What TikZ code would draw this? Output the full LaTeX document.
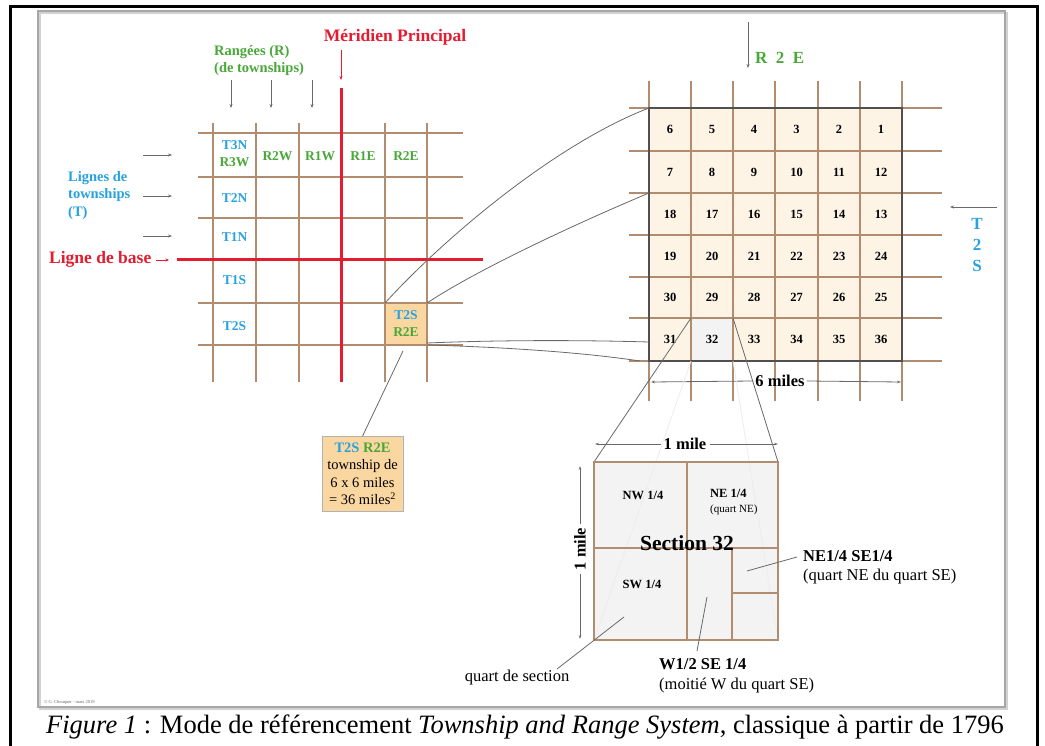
\documentclass[tikz,border=0pt]{standalone}
\usepackage{fontspec}
\setmainfont{Liberation Serif}
\usetikzlibrary{arrows.meta}

\definecolor{gridbrown}{RGB}{178,140,110}
\definecolor{basered}{RGB}{228,28,48}
\definecolor{tblue}{RGB}{40,162,222}
\definecolor{rgreen}{RGB}{74,168,58}
\definecolor{cellorange}{RGB}{250,214,160}
\definecolor{towncream}{RGB}{253,244,230}
\definecolor{secgray}{RGB}{242,243,242}
\definecolor{leadgray}{RGB}{105,105,105}
\definecolor{squareborder}{RGB}{80,80,80}
\definecolor{pageframe}{RGB}{0,0,0}

\newcommand\fs[1]{\fontsize{#1}{#1}\selectfont}

\tikzset{
  brownline/.style={draw=gridbrown, line width=1.6pt},
  redline/.style={draw=basered, line width=3pt},
  leader/.style={draw=leadgray, line width=0.8pt},
  faint/.style={draw=gray!14, line width=0.8pt},
  ptr/.style={draw=leadgray, line width=0.8pt, -{Stealth[length=4pt,width=3pt]}},
  dimline/.style={draw=leadgray, line width=0.8pt, -{Stealth[length=4pt,width=2.6pt]}},
  lbl/.style={inner sep=0pt, font=\fs{13.5}\bfseries},
  num/.style={inner sep=0pt, font=\fs{12.5}\bfseries},
  qlbl/.style={inner sep=0pt, font=\fs{12.5}\bfseries, align=center},
  bigl/.style={inner sep=0pt, font=\fs{16.5}\bfseries, anchor=west},
  smalll/.style={inner sep=0pt, font=\fs{16.5}, anchor=west},
}

\begin{document}
\begin{tikzpicture}[x=1pt,y=-1pt]
\useasboundingbox (0,0) rectangle (1045,746);
\fill[white] (0,0) rectangle (1045,746);

% inner framed panel
\draw[gray!35, line width=1.6pt] (40,13) rectangle (1007,709);
\draw[gray!70, line width=1.4pt] (38,11) rectangle (1005,707);

% ---------- left grid: townships around the meridian and base line ----------
\fill[cellorange] (385,303) rectangle (427,345);
\draw[orange!60!gridbrown, line width=0.8pt] (385,303) rectangle (427,345);
\foreach \x in {213,256,299,385,427} \draw[brownline] (\x,123) -- (\x,382);
\foreach \y in {133,177,218,303,345} \draw[brownline] (198,\y) -- (463,\y);
\draw[redline] (341,88) -- (341,382);
\draw[redline] (177,260) -- (483,260);

% cell labels
\node[lbl, text=tblue]  (t3n) at (234.5,145) {T3N};
\node[lbl, text=rgreen] (r3w) at (234.5,162) {R3W};
\node[lbl, text=rgreen] (r2w) at (277.5,156) {R2W};
\node[lbl, text=rgreen] (r1w) at (320,156) {R1W};
\node[lbl, text=rgreen] (r1e) at (363,156) {R1E};
\node[lbl, text=rgreen] (r2e) at (406,156) {R2E};
\node[lbl, text=tblue]  (t2n) at (234.5,198) {T2N};
\node[lbl, text=tblue]  (t1n) at (234.5,237) {T1N};
\node[lbl, text=tblue]  (t1s) at (234.5,280) {T1S};
\node[lbl, text=tblue]  (t2s) at (234.5,326) {T2S};
\node[lbl, text=tblue]  (ct2s) at (406,315) {T2S};
\node[lbl, text=rgreen] (cr2e) at (406,332) {R2E};

% titles and pointers
\node[inner sep=0pt, text=basered, font=\fs{17.5}\bfseries] (merid) at (395,37) {Méridien Principal};
\coordinate (meridtop) at (341,50);
\coordinate (meridtip) at (341,80);
\draw[draw=basered, line width=0.7pt, -{Stealth[length=4pt,width=3pt]}] (meridtop) -- (meridtip);

\node[inner sep=0pt, text=rgreen, font=\fs{14.5}\bfseries, align=left, anchor=north west] (rangees) at (214,45) {Rangées (R)\\[3pt](de townships)};
\foreach \x/\n in {231/a,271/b,312/c} {
  \coordinate (rt\n) at (\x,80);
  \coordinate (rb\n) at (\x,108);
  \draw[ptr] (rt\n) -- (rb\n);
}

\node[inner sep=0pt, text=tblue, font=\fs{14.5}\bfseries, align=left, anchor=north west] (lignes) at (68,171) {Lignes de\\[3pt]townships\\[3pt](T)};
\foreach \y/\n in {155/a,196/b,236/c} {
  \coordinate (ll\n) at (143,\y);
  \coordinate (lr\n) at (172,\y);
  \draw[ptr] (ll\n) -- (lr\n);
}

\node[inner sep=0pt, text=basered, font=\fs{17.5}\bfseries, anchor=west] (base) at (49,259) {Ligne de base};
\coordinate (basetip) at (169,260);
\draw[draw=basered, line width=0.7pt, -{Stealth[length=3.5pt,width=3pt]}] (base.east) ++(5,1) -- (basetip);

% ---------- township T2S R2E, 36 sections ----------
\fill[towncream] (649,108) rectangle (902,361);
\fill[secgray] (691,318) rectangle (733,361);
\foreach \x in {649,691,733,775,818,860,902} \draw[brownline] (\x,81) -- (\x,401);
\foreach \y in {108,151,193,235,277,318,361} \draw[brownline] (629,\y) -- (942,\y);
\draw[draw=squareborder, line width=1.8pt] (649,108) rectangle (902,361);

\foreach \r/\yy in {0/129.5,1/172,2/214,3/256,4/297.5,5/339.5} {
  \foreach \c/\xx in {0/670,1/712,2/754,3/796.5,4/839,5/881} {
    \pgfmathtruncatemacro{\sec}{ifthenelse(mod(\r,2)==0, 6*\r+6-\c, 6*\r+1+\c)}
    \node[num] (s\sec) at (\xx,\yy) {\sec};
  }
}

\node[inner sep=0pt, text=rgreen, font=\fs{17}\bfseries, anchor=west] (r2etitle) at (755,58) {R\,\,\,2\,\,\,E};
\coordinate (r2etop) at (748,22);
\coordinate (r2etip) at (748,68);
\draw[ptr] (r2etop) -- (r2etip);

\node[inner sep=0pt, text=tblue, font=\fs{17}\bfseries, align=center] (t2stitle) at (977,245) {T\\[4pt]2\\[4pt]S};
\coordinate (t2sfrom) at (997,207);
\coordinate (t2sto) at (950,207);
\draw[ptr] (t2sfrom) -- (t2sto);

% 6 miles dimension
\node[inner sep=2pt, font=\fs{16.5}\bfseries] (sixm) at (780,381) {6 miles};
\coordinate (sixl) at (651,382);
\coordinate (sixr) at (901,382);
\draw[dimline] (sixm.west) -- (sixl);
\draw[dimline] (sixm.east) -- (sixr);

% zoom lines from the orange township to the enlarged township
\coordinate (cellnw) at (385,303);
\coordinate (cellne) at (427,303);
\coordinate (cellse) at (427,343);
\coordinate (cellse2) at (427,345);
\coordinate (townnw) at (649,108);
\coordinate (townrow3) at (649,193);
\coordinate (townrow6) at (649,342);
\coordinate (townsw) at (640,361);
\draw[leader] (cellnw) .. controls (450,232) and (560,142) .. (townnw);
\draw[leader] (cellne) .. controls (480,268) and (580,222) .. (townrow3);
\draw[leader] (cellse) .. controls (500,340) and (580,340) .. (townrow6);
\draw[leader] (cellse2) .. controls (500,347) and (580,352) .. (townsw);

% township summary box
\coordinate (cellfoot) at (403,351);
\node[draw=gray!60, fill=cellorange, line width=0.6pt, minimum width=81pt, minimum height=75pt,
      inner sep=1pt, align=center, font={\fontsize{14.5}{17.5}\selectfont}] (infobox) at (362.5,474)
  {{\bfseries\color{tblue}T2S} {\bfseries\color{rgreen}R2E}\\ township de\\ 6 x 6 miles\\ = 36 miles\textsuperscript{2}};
\draw[leader] (cellfoot) -- (infobox.north);

% ---------- section 32 ----------
\fill[secgray] (594,462) rectangle (778,640);
\coordinate (sec32nw) at (691,318);
\coordinate (sec32ne) at (733,318);
\coordinate (sec32sw) at (691,361);
\coordinate (sec32se) at (733,361);
\coordinate (bignw) at (594,462);
\coordinate (bigne) at (778,462);
\coordinate (bigsw) at (594,640);
\coordinate (bigse) at (778,640);
\draw[faint] (sec32sw) -- (bigsw);
\draw[faint] (sec32se) -- (bigse);
\draw[leader] (sec32nw) -- (bignw);
\draw[leader] (sec32ne) -- (bigne);
\draw[brownline] (594,462) rectangle (778,640);
\draw[brownline] (687,462) -- (687,640);
\draw[brownline] (594,548) -- (778,548);
\draw[brownline] (732,548) -- (732,640);
\draw[brownline] (732,593) -- (778,593);

\node[qlbl] (nw) at (643,495) {NW 1/4};
\node[qlbl, anchor=west] (ne) at (710,493) {NE 1/4};
\node[inner sep=0pt, font=\fs{11}, anchor=west] (nequart) at (710,510) {(quart NE)};
\node[qlbl] (sw) at (642,584) {SW 1/4};
\node[inner sep=0pt, font=\fs{21.5}\bfseries] (sectitle) at (687,543) {Section 32};

% 1 mile dimensions
\node[inner sep=3pt, font=\fs{16.5}\bfseries] (onem) at (685,444) {1 mile};
\coordinate (onel) at (595,444);
\coordinate (oner) at (778,444);
\draw[dimline] (onem.west) -- (onel);
\draw[dimline] (onem.east) -- (oner);
\node[inner sep=3pt, font=\fs{16.5}\bfseries, rotate=90] (vmile) at (580,549) {1 mile};
\coordinate (vtop) at (580,466);
\coordinate (vbot) at (580,639);
\draw[dimline] (vmile.east) -- (vtop);
\draw[dimline] (vmile.west) -- (vbot);

% quarter labels with leaders
\node[bigl] (nese) at (803,556) {NE1/4 SE1/4};
\node[smalll] (nesedesc) at (803,577) {(quart NE du quart SE)};
\coordinate (nesefrom) at (797,557);
\coordinate (neseto) at (747,571);
\draw[leader] (nesefrom) -- (neseto);

\node[bigl] (wse) at (659,664) {W1/2 SE 1/4};
\node[smalll] (wsedesc) at (659,686) {(moitié W du quart SE)};
\coordinate (wsefrom) at (697,651);
\coordinate (wseto) at (707,597);
\draw[leader] (wsefrom) -- (wseto);

\node[inner sep=0pt, font=\fs{16.5}] (quart) at (517,678) {quart de section};
\coordinate (quartfrom) at (557,669);
\coordinate (quartto) at (624,617);
\draw[leader] (quartfrom) -- (quartto);

% credit and caption
\node[inner sep=0pt, font=\fs{4.5}, text=gray!80!black, anchor=west] (credit) at (44,702) {© G. Chouquer - mars 2019};
\node[inner sep=0pt, font=\fs{26.5}] (caption) at (525,727)
  {\textit{Figure 1} : Mode de référencement \textit{Township and Range System}, classique à partir de 1796};

% outer page frame, open at the bottom edge
\fill[pageframe] (9,5) rectangle (12,746);
\fill[pageframe] (1036,5) rectangle (1039,746);
\fill[pageframe] (9,5) rectangle (1039,8);
\end{tikzpicture}
\end{document}
